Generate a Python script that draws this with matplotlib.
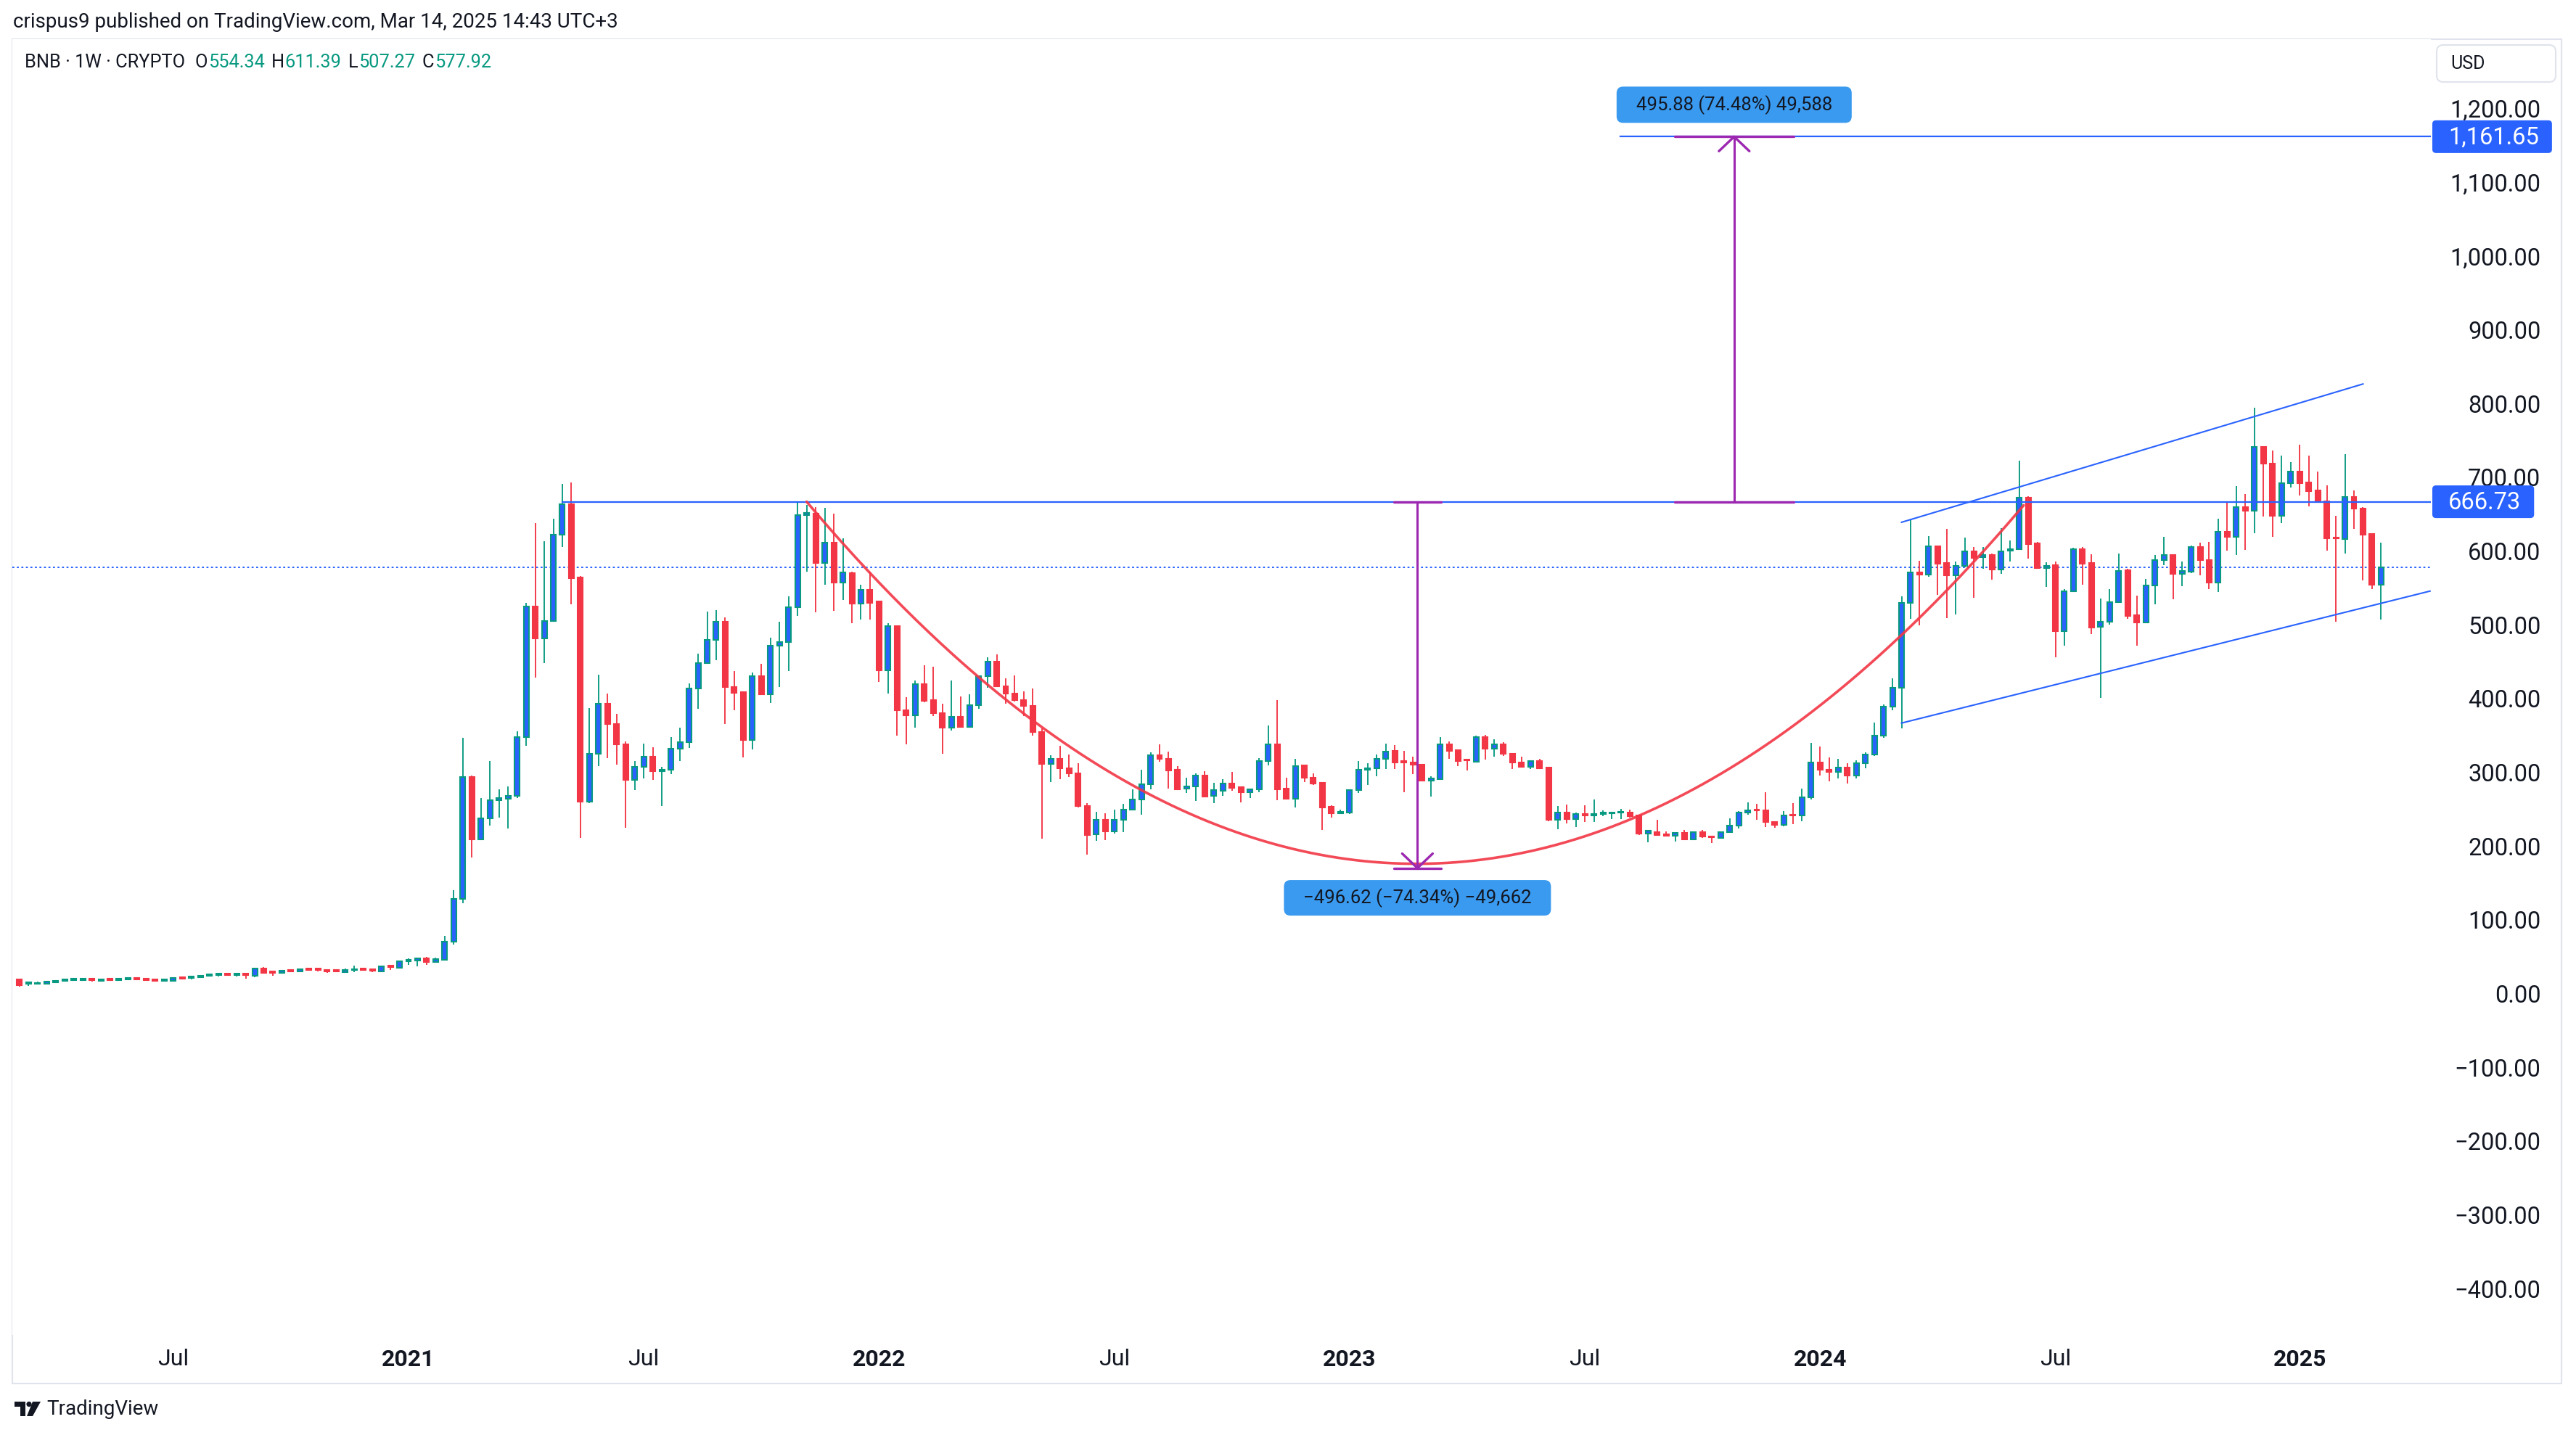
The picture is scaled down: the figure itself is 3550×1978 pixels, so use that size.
import numpy as np
import pandas as pd
import matplotlib
matplotlib.use("Agg")
import matplotlib.pyplot as plt
from matplotlib.patches import FancyBboxPatch, Rectangle, Circle, Polygon
from matplotlib.transforms import IdentityTransform

plt.rcParams['font.family'] = ['Roboto', 'DejaVu Sans']

# ---------------- data (weekly BNB candles, first week starts 2020-03-09) ----------------
start_week = "2020-03-09"

opens = [
    19.3, 13.4, 13.5, 13.5, 15.7, 17.7, 18.7, 18.7, 20.3, 17.7,
    20.3, 18.7, 19.6, 21.3, 20.3, 19.3, 17.7, 17.7, 22.3, 21.6,
    22.6, 24.6, 25.5, 27.2, 25.5, 27.2, 24.6, 34.1, 30.1, 28.5,
    32.1, 30.5, 34.1, 34.1, 32.1, 32.1, 29.5, 31.8, 34.1, 33.1,
    30.5, 38.0, 35.4, 44.2, 44.6, 47.8, 43.3, 46.2, 70.1, 128,
    294, 209, 238, 262, 264, 268, 348, 525, 481, 505,
    622, 663, 564, 260, 325, 393, 365, 338, 290, 307,
    321, 301, 303, 332, 341, 414, 448, 479, 504, 416,
    409, 344, 430, 406, 472, 477, 524, 649, 651, 584,
    611, 557, 570, 529, 547, 532, 438, 498, 384, 377,
    419, 398, 380, 360, 375, 361, 391, 430, 450, 417,
    407, 398, 390, 355, 311, 318, 305, 299, 254, 216,
    236, 220, 236, 249, 263, 284, 323, 318, 303, 278,
    281, 296, 268, 275, 285, 280, 273, 277, 315, 338,
    278, 264, 309, 293, 286, 253, 244, 245, 276, 303,
    305, 318, 329, 315, 313, 310, 289, 291, 338, 330,
    317, 314, 348, 332, 338, 325, 313, 307, 315, 306,
    236, 245, 237, 243, 241, 243, 244.5, 245, 245, 241,
    217, 219, 216, 214, 218, 209, 219, 213, 211, 219,
    228, 245, 249.5, 248, 233, 229, 242, 241, 266, 313,
    303, 300, 306, 296, 312, 324, 350, 389, 415, 530,
    571, 568, 606, 584, 567, 580, 599, 592, 595, 575,
    600, 602, 672, 610, 577, 581, 491, 545, 602, 584,
    497, 504, 531, 574, 513, 503, 553, 588, 595, 569,
    572, 605, 588, 557, 626, 619, 659, 655, 741, 718,
    648, 692, 708, 693, 682, 667, 618, 616, 673, 657,
    623, 554.34,
]
highs = [
    20.3, 16.4, 16.4, 16.6, 18.3, 19.5, 20.4, 21.3, 20.5, 19.5,
    20.5, 20.5, 21.6, 21.5, 20.5, 19.5, 19.5, 21.5, 22.5, 23.5,
    24.4, 26.4, 27.4, 27.4, 27.4, 28.2, 35.4, 36.0, 30.3, 32.1,
    32.3, 34.1, 34.3, 35.1, 32.3, 32.3, 34.1, 38.0, 35.1, 33.3,
    38.0, 38.2, 44.0, 47.8, 48.8, 49.5, 48.8, 78.3, 140, 347,
    296, 265, 315, 277, 281, 356, 530, 638, 613, 644,
    691, 693, 566, 387, 432, 407, 379, 342, 315, 339,
    334, 307, 348, 360, 420, 461, 518, 520, 510, 437,
    410, 435, 447, 482, 504, 538, 667, 662, 659, 658,
    651, 617, 572, 554, 572, 533, 502, 499, 402, 424,
    445, 443, 393, 424, 403, 406, 431, 456, 460, 427,
    431, 410, 414, 359, 323, 336, 324, 312, 258, 246,
    244, 249, 257, 277, 303, 327, 338, 328, 308, 293,
    299, 301, 286, 291, 300, 281, 278, 319, 363, 398,
    293, 318, 310, 299, 286, 255, 249, 277, 315, 312,
    324, 339, 337, 329, 321, 311, 295, 348, 342, 331,
    318, 350, 351, 345, 341, 326, 321, 316, 318, 307,
    254, 256, 245, 255, 263, 248, 246, 250, 249, 242,
    222, 236, 220, 218, 222, 220, 222, 214, 220, 238,
    247, 259, 257, 273, 234, 247, 258, 278, 340, 335,
    320, 318, 312, 316, 327, 367, 392, 427, 538, 644,
    587, 620, 607, 630, 586, 618, 605, 605, 597, 631,
    614, 722, 674, 612, 585, 586, 548, 604, 605, 596,
    536, 548, 597, 576, 539, 562, 595, 619, 596, 586,
    607, 611, 612, 644, 667, 688, 677, 794, 742, 736,
    729, 720, 744, 729, 708, 689, 648, 731, 682, 659,
    624, 611.39,
]
lows = [
    9.5, 10.5, 12.9, 12.8, 15.5, 17.4, 17.7, 18.5, 16.7, 16.7,
    18.4, 18.4, 19.4, 18.7, 18.4, 17.4, 17.4, 17.4, 19.6, 19.6,
    21.6, 24.3, 23.6, 25.2, 23.6, 20.3, 22.6, 27.5, 24.6, 28.3,
    29.5, 30.3, 31.4, 30.5, 28.5, 29.5, 29.3, 29.5, 31.4, 29.5,
    30.3, 32.4, 35.2, 39.3, 37.4, 39.3, 42.3, 45.9, 66, 122,
    184, 208, 228, 239, 224, 265, 336, 428, 448, 504,
    605, 528, 211, 258, 308, 319, 310, 225, 276, 292,
    290, 254, 298, 315, 333, 386, 447, 452, 365, 384,
    320, 331, 405, 394, 416, 437, 512, 572, 517, 554,
    519, 534, 502, 507, 507, 422, 407, 350, 338, 360,
    395, 376, 325, 357, 360, 360, 386, 415, 416, 393,
    396, 376, 350, 210, 287, 291, 294, 252, 188, 207,
    208, 217, 219, 248, 242, 277, 314, 278, 276, 272,
    261, 266, 258, 268, 275, 259, 265, 273, 309, 262,
    263, 252, 287, 283, 222, 239, 244, 243, 272, 283,
    295, 304, 304, 273, 298, 288, 267, 290, 318, 308,
    302, 313, 317, 321, 322, 304, 306, 304, 304, 234,
    223, 231, 226, 233, 233, 240, 237, 237, 239, 215,
    205, 214, 213, 206, 209, 208, 211, 204, 210, 218,
    224, 242, 236, 226, 225, 227, 230, 234, 263, 296,
    288, 292, 285, 292, 305, 322, 347, 384, 359, 508,
    499, 565, 540, 509, 514, 578, 537, 576, 561, 569,
    586, 601, 590, 576, 551, 456, 472, 544, 554, 487,
    401, 500, 530, 508, 472, 502, 528, 581, 535, 552,
    570, 567, 548, 544, 600, 595, 601, 624, 647, 619,
    638, 686, 675, 660, 665, 600, 504, 597, 630, 560,
    548, 507.27,
]
closes = [
    11.8, 15.1, 14.7, 16.4, 17.3, 19.3, 20.3, 20.3, 18.7, 19.3,
    18.7, 20.3, 21.3, 19.6, 18.7, 17.7, 19.3, 21.3, 20.6, 23.3,
    24.2, 26.2, 27.2, 25.5, 27.2, 25.5, 34.1, 28.2, 28.5, 31.1,
    30.5, 33.4, 32.4, 32.4, 30.5, 30.5, 32.1, 33.1, 32.4, 31.4,
    37.0, 36.0, 43.9, 45.9, 47.8, 43.3, 46.9, 70.1, 128, 294,
    209, 238, 262, 265, 268, 348, 525, 481, 505, 622,
    663, 563, 260, 325, 393, 365, 338, 290, 307, 321,
    301, 303, 332, 341, 414, 448, 479, 504, 416, 408,
    344, 430, 406, 472, 477, 524, 649, 652, 584, 611,
    557, 571, 529, 547, 530, 438, 498, 384, 377, 419,
    397, 380, 360, 375, 361, 391, 430, 450, 417, 407,
    398, 390, 355, 311, 318, 305, 299, 254, 215, 236,
    220, 236, 249, 263, 284, 323, 318, 302, 277, 281,
    296, 267, 276, 285, 279, 273, 277, 315, 338, 277,
    264, 308, 293, 285, 252, 244, 246, 276, 303, 305,
    318, 328, 313, 313, 310, 289, 292, 338, 329, 315,
    316, 348, 332, 338, 325, 313, 307, 315, 305, 236,
    245, 237, 243, 241, 243, 245, 245.2, 246, 240, 217,
    221, 215, 214, 218, 209, 219, 213, 212, 219, 228,
    245, 248, 248.5, 233, 229, 241, 241, 266, 313, 303,
    300, 306, 296, 312, 324, 350, 389, 415, 530, 571,
    568, 606, 583, 567, 580, 599, 591, 595, 575, 599,
    602, 672, 609, 577, 580, 491, 545, 602, 583, 496,
    504, 531, 573, 512, 503, 553, 588, 595, 569, 573,
    605, 588, 557, 626, 619, 659, 655, 741, 718, 648,
    692, 708, 692, 681, 666, 617, 617, 673, 657, 622,
    554, 577.92,
]

price_ticks = [-400, -300, -200, -100, 0, 100, 200, 300, 400, 500,
               600, 700, 800, 900, 1000, 1100, 1200]
time_tick_dates = ['2020-07-01', '2021-01-01', '2021-07-01', '2022-01-01', '2022-07-01',
                   '2023-01-01', '2023-07-01', '2024-01-01', '2024-07-01', '2025-01-01']
time_tick_labels = ['Jul', '2021', 'Jul', '2022', 'Jul', '2023', 'Jul', '2024', 'Jul', '2025']

header_text = "crispus9 published on TradingView.com, Mar 14, 2025 14:43 UTC+3"
symbol_text = "BNB \u00b7 1W \u00b7 CRYPTO"
ohlc_letters = ["O", "H", "L", "C"]
ohlc_values = ["554.34", "611.39", "507.27", "577.92"]

# drawings (anchor weeks are bar indices, prices in USD)
last_close = 577.92
resistance_level = 666.73
resistance_start_week = 60
target_level = 1161.65
target_start_week = 176.9
channel_upper_weeks = [208, 259]
channel_upper_prices = [638.9, 826.4]
channel_lower_weeks = [208, 266.4]
channel_lower_prices = [366.7, 545.6]
cup_weeks = [87, 154.25, 221.5]          # quadratic curve anchors (start, control, end)
cup_prices = [666.73, -312.5, 662.0]
measure_down_week, measure_down_span = 154.5, 2.6
measure_down_from, measure_down_to = 666.73, 170.11
measure_down_text = "\u2212496.62 (\u221274.34%) \u221249,662"
measure_up_week, measure_up_span = 189.5, 6.6
measure_up_from, measure_up_to = 666.73, 1161.65
measure_up_text = "495.88 (74.48%) 49,588"

# ---------------- styling ----------------
W, H = 3550, 1978
DARK = '#131722'
UP_BODY = '#2962FF'
UP_EDGE = '#089981'
DOWN = '#F23645'
BLUE = '#2962FF'
PURPLE = '#9C27B0'
MEASURE_BG = '#3A9AEF'
BORDER = '#E0E3EB'
ID = IdentityTransform()

fig = plt.figure(figsize=(W / 100, H / 100), dpi=100)
fig.patch.set_facecolor('white')

PL, PR, PT, PB = 17, 3350, 54, 1840
ax = fig.add_axes([PL / W, 1 - PB / H, (PR - PL) / W, (PB - PT) / H])
ax.set_xlim(-0.786, 266.5)
ax.set_ylim(-462.7, 1293.8)
ax.set_facecolor('white')
for s in ax.spines.values():
    s.set_visible(False)

# ---------------- candles ----------------
o = np.array(opens, float); hi = np.array(highs, float)
lo = np.array(lows, float); c = np.array(closes, float)
x = np.arange(len(o))
up = c >= o
ax.vlines(x[up], lo[up], hi[up], colors=UP_EDGE, lw=1.35, zorder=2)
ax.vlines(x[~up], lo[~up], hi[~up], colors=DOWN, lw=1.35, zorder=2)
bot = np.minimum(o, c)
hgt = np.maximum(np.abs(c - o), 0.5)
ax.bar(x[up], hgt[up], bottom=bot[up], width=0.56, color=UP_BODY,
       edgecolor=UP_EDGE, linewidth=1.5, zorder=3)
ax.bar(x[~up], hgt[~up], bottom=bot[~up], width=0.56, color=DOWN,
       edgecolor=DOWN, linewidth=1.5, zorder=3)

xmax = ax.get_xlim()[1]

# ---------------- lines ----------------
ax.axhline(last_close, color=BLUE, lw=1.4, ls=(0, (1.4, 1.8)), zorder=1)
ax.plot([resistance_start_week, xmax], [resistance_level] * 2, color=BLUE, lw=1.6, zorder=4)
ax.plot([target_start_week, xmax], [target_level] * 2, color=BLUE, lw=1.6, zorder=4)
ax.plot(channel_upper_weeks, channel_upper_prices, color=BLUE, lw=1.5, zorder=4)
ax.plot(channel_lower_weeks, channel_lower_prices, color=BLUE, lw=1.5, zorder=4)

t = np.linspace(0, 1, 400)
bx = (1 - t) ** 2 * cup_weeks[0] + 2 * t * (1 - t) * cup_weeks[1] + t ** 2 * cup_weeks[2]
by = (1 - t) ** 2 * cup_prices[0] + 2 * t * (1 - t) * cup_prices[1] + t ** 2 * cup_prices[2]
ax.plot(bx, by, color=DOWN, lw=2.6, alpha=0.9, zorder=5, solid_capstyle='round')

# ---------------- measure tools ----------------
inv = ax.transData.inverted()


def measure(week, span, y_from, y_to):
    ax.plot([week, week], [y_from, y_to], color=PURPLE, lw=2.2, zorder=6)
    ax.plot([week - span, week + span], [y_from] * 2, color=PURPLE, lw=2.4, zorder=6,
            solid_capstyle='round')
    ax.plot([week - span, week + span], [y_to] * 2, color=PURPLE, lw=2.4, zorder=6,
            solid_capstyle='round')
    tipx, tipy = ax.transData.transform((week, y_to))
    d = 20 if y_to < y_from else -20
    a1 = inv.transform((tipx - 21, tipy + d))
    a2 = inv.transform((tipx + 21, tipy + d))
    ax.plot([a1[0], week, a2[0]], [a1[1], y_to, a2[1]], color=PURPLE, lw=2.4, zorder=6,
            solid_capstyle='round', solid_joinstyle='round')
    return tipx, tipy


def label_box(cx, cy, w, h, text, fs):
    fig.add_artist(FancyBboxPatch((cx - w / 2, cy - h / 2), w, h,
                                  boxstyle='round,pad=0,rounding_size=9', transform=ID,
                                  fc=MEASURE_BG, ec='none', zorder=10))
    fig.text(cx, cy, text, transform=ID, ha='center', va='center', fontsize=fs,
             color=DARK, zorder=11)


tx, ty = measure(measure_down_week, measure_down_span, measure_down_from, measure_down_to)
label_box(tx, ty - 41, 368, 49, measure_down_text, 18.5)
tx, ty = measure(measure_up_week, measure_up_span, measure_up_from, measure_up_to)
label_box(tx, ty + 44, 324, 50, measure_up_text, 18.5)

# ---------------- axes ticks ----------------
weeks = pd.date_range(start_week, periods=len(opens), freq='7D')
tick_pos = [int(np.searchsorted(weeks.values, np.datetime64(d))) for d in time_tick_dates]
ax.set_xticks(tick_pos)
ax.set_xticklabels(time_tick_labels)
ax.tick_params(axis='x', length=0, pad=14, labelsize=23, labelcolor=DARK)
for lbl, lab in zip(ax.get_xticklabels(), time_tick_labels):
    if lab.isdigit():
        lbl.set_fontweight('bold')

ax.yaxis.tick_right()
ax.set_yticks(price_ticks)
ax.set_yticklabels([f"{v:,.2f}".replace('-', '\u2212') for v in price_ticks])
ax.tick_params(axis='y', length=0, pad=109, labelsize=23.5, labelcolor=DARK)
for lbl in ax.get_yticklabels():
    lbl.set_horizontalalignment('right')

renderer = fig.canvas.get_renderer()


def price_tag(value, text):
    yc = ax.transData.transform((0, value))[1]
    tt = fig.text(3374, yc - 1, text, transform=ID, fontsize=23.5, color='white',
                  ha='left', va='center', zorder=12)
    bb = tt.get_window_extent(renderer=renderer)
    w = bb.x1 - 3352 + 18
    fig.add_artist(FancyBboxPatch((3352, yc - 22.5), w, 45,
                                  boxstyle='round,pad=0,rounding_size=5', transform=ID,
                                  fc=BLUE, ec='none', zorder=11))


price_tag(target_level, f"{target_level:,.2f}")
price_tag(resistance_level, f"{resistance_level:,.2f}")

# ---------------- frame, header, legend line ----------------
fig.add_artist(Rectangle((17, H - 1907), 3530 - 17, 1907 - 54, fill=False, ec=BORDER,
                         lw=1.5, transform=ID, zorder=0))
fig.text(18, H - 30, header_text, transform=ID, fontsize=20, color=DARK,
         ha='left', va='center')

xcur = 34
pieces = [(symbol_text, DARK, 13)]
for letter, val in zip(ohlc_letters, ohlc_values):
    pieces.append((letter, DARK, 1))
    pieces.append((val, UP_EDGE, 9))
for txt, col, gap in pieces:
    tt = fig.text(xcur, H - 86, txt, transform=ID, fontsize=18.3, color=col,
                  ha='left', va='center')
    bb = tt.get_window_extent(renderer=renderer)
    xcur = bb.x1 + gap

# USD box
fig.add_artist(FancyBboxPatch((3358, H - 113), 164, 51, boxstyle='round,pad=0,rounding_size=9',
                              transform=ID, fc='white', ec=BORDER, lw=1.5, zorder=10))
fig.text(3377, H - 88, "USD", transform=ID, fontsize=18, color=DARK, ha='left',
         va='center', zorder=11)

# TradingView logo + wordmark
def tl(px, py):
    return (px, H - py)


fig.add_artist(Polygon([tl(20, 1932), tl(35, 1932), tl(35, 1952), tl(28, 1952),
                        tl(28, 1939), tl(20, 1939)], closed=True, transform=ID,
                       fc=DARK, ec='none'))
fig.add_artist(Circle(tl(40, 1935.5), 3.6, transform=ID, fc=DARK, ec='none'))
fig.add_artist(Polygon([tl(45, 1932), tl(56, 1932), tl(45, 1952), tl(37, 1952)],
                       closed=True, transform=ID, fc=DARK, ec='none'))
fig.text(64, H - 1943, "TradingView", transform=ID, fontsize=20, color=DARK,
         ha='left', va='center')

fig.savefig("out.png", dpi=100, facecolor='white')
